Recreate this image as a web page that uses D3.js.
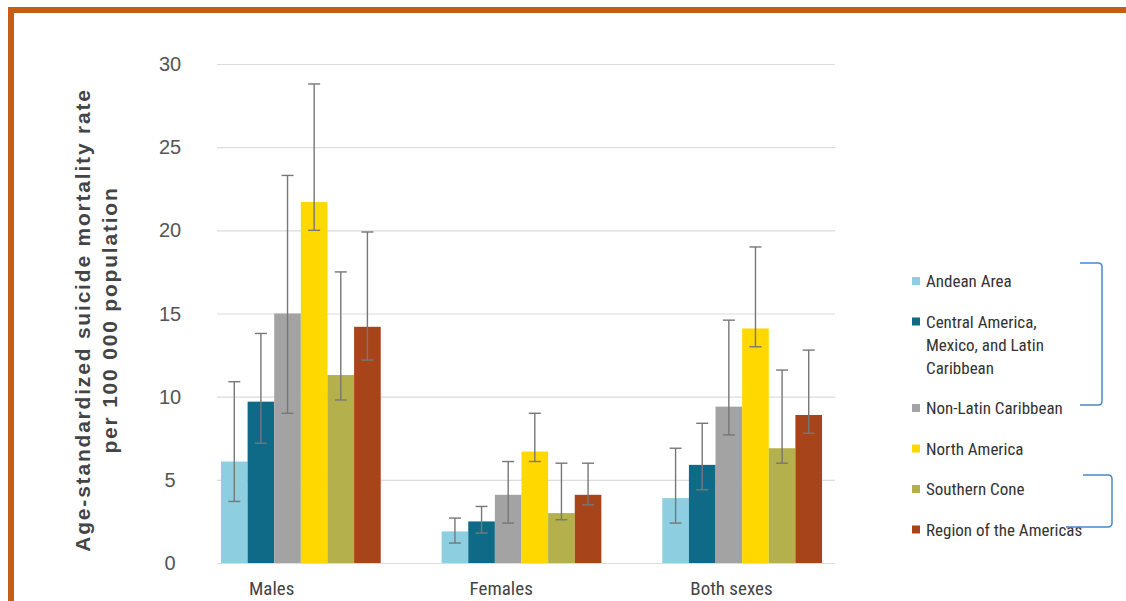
<!DOCTYPE html>
<html>
<head>
<meta charset="utf-8">
<script src="https://cdn.jsdelivr.net/npm/d3@7"></script>
<style>
  html, body { margin: 0; padding: 0; background: #fff; }
  svg { display: block; }
</style>
</head>
<body>
<svg id="chart" width="1126" height="601"></svg>
<script>
// ---------- data ----------
const groups = ["Males", "Females", "Both sexes"];
const seriesNames = ["Andean Area", "Central America, Mexico, and Latin Caribbean", "Non-Latin Caribbean", "North America", "Southern Cone", "Region of the Americas"];
const legendLines = [["Andean Area"], ["Central America,", "Mexico, and Latin", "Caribbean"], ["Non-Latin Caribbean"], ["North America"], ["Southern Cone"], ["Region of the Americas"]];
const seriesColors = ["#8dcfe0", "#0f6a87", "#a3a3a3", "#ffd800", "#b4b04c", "#a8441a"];

const andean   = [6.1, 1.9, 3.9];
const central  = [9.7, 2.5, 5.9];
const nonLatin = [15.0, 4.1, 9.4];
const northAm  = [21.7, 6.7, 14.1];
const southern = [11.3, 3.0, 6.9];
const region   = [14.2, 4.1, 8.9];

const andeanLo   = [3.7, 1.2, 2.4],  andeanHi   = [10.9, 2.7, 6.9];
const centralLo  = [7.2, 1.8, 4.4],  centralHi  = [13.8, 3.4, 8.4];
const nonLatinLo = [9.0, 2.4, 7.7],  nonLatinHi = [23.3, 6.1, 14.6];
const northAmLo  = [20.0, 6.1, 13.0], northAmHi = [28.8, 9.0, 19.0];
const southernLo = [9.8, 2.6, 6.0],  southernHi = [17.5, 6.0, 11.6];
const regionLo   = [12.2, 3.5, 7.8], regionHi   = [19.9, 6.0, 12.8];

const yTicks = [0, 5, 10, 15, 20, 25, 30];
const yTitle = ["Age-standardized suicide mortality rate", "per 100 000 population"];

const values = [andean, central, nonLatin, northAm, southern, region];
const lows   = [andeanLo, centralLo, nonLatinLo, northAmLo, southernLo, regionLo];
const highs  = [andeanHi, centralHi, nonLatinHi, northAmHi, southernHi, regionHi];

const rows = [];
groups.forEach((g, gi) => seriesNames.forEach((s, si) => rows.push({
  group: g, series: s, si, value: values[si][gi], lo: lows[si][gi], hi: highs[si][gi]
})));

// ---------- layout ----------
const svg = d3.select("#chart");
const narrow = "'Liberation Sans Narrow', 'Arial Narrow', 'Roboto Condensed', sans-serif";

// orange frame
svg.append("rect").attr("x", 8).attr("y", 7).attr("width", 1118).attr("height", 6).attr("fill", "#c65d14");
svg.append("rect").attr("x", 8).attr("y", 7).attr("width", 6).attr("height", 594).attr("fill", "#c65d14");

const y = d3.scaleLinear().domain([0, 30]).range([563, 64]);
const x0 = d3.scaleBand().domain(groups).range([217, 826]).paddingInner(0.276).paddingOuter(0.018);
const x1 = d3.scaleBand().domain(seriesNames).range([0, x0.bandwidth()]).padding(0);
const color = d3.scaleOrdinal().domain(seriesNames).range(seriesColors);

// gridlines
const yAxis = d3.axisLeft(y).tickValues(yTicks).tickSize(-(835 - 217)).tickFormat("");
const gGrid = svg.append("g").attr("transform", "translate(217,0)").call(yAxis);
gGrid.select(".domain").remove();
gGrid.selectAll(".tick line").attr("stroke", "#dcdcdc").attr("stroke-width", 1.2);

// y tick labels
svg.append("g").selectAll("text").data(yTicks).join("text")
  .attr("x", 170).attr("y", d => y(d))
  .attr("text-anchor", "middle").attr("dominant-baseline", "central")
  .attr("font-family", "'Liberation Sans', Arial, sans-serif").attr("font-size", 20)
  .attr("fill", "#555").text(d => d);

// y title
const yt = svg.append("text")
  .attr("transform", "translate(96,320) rotate(-90)")
  .attr("text-anchor", "middle")
  .attr("font-family", "'Liberation Sans', Arial, sans-serif").attr("font-weight", "bold")
  .attr("font-size", 21).attr("letter-spacing", 1.8).attr("fill", "#444");
yt.selectAll("tspan").data(yTitle).join("tspan")
  .attr("x", 0).attr("dy", (d, i) => i === 0 ? -6 : 27).text(d => d);

// bars
const bars = svg.append("g");
bars.selectAll("rect").data(rows).join("rect")
  .attr("x", d => x0(d.group) + x1(d.series))
  .attr("y", d => y(d.value))
  .attr("width", x1.bandwidth())
  .attr("height", d => y(0) - y(d.value))
  .attr("fill", d => color(d.series));

// error bars
const eb = svg.append("g").attr("stroke", "#777").attr("stroke-width", 1.4);
const cx = d => x0(d.group) + x1(d.series) + x1.bandwidth() / 2;
eb.selectAll("line.v").data(rows).join("line").attr("class", "v")
  .attr("x1", cx).attr("x2", cx).attr("y1", d => y(d.hi)).attr("y2", d => y(d.lo));
eb.selectAll("line.t").data(rows).join("line").attr("class", "t")
  .attr("x1", d => cx(d) - 6).attr("x2", d => cx(d) + 6).attr("y1", d => y(d.hi)).attr("y2", d => y(d.hi));
eb.selectAll("line.b").data(rows).join("line").attr("class", "b")
  .attr("x1", d => cx(d) - 6).attr("x2", d => cx(d) + 6).attr("y1", d => y(d.lo)).attr("y2", d => y(d.lo));

// group labels
svg.append("g").selectAll("text").data(groups).join("text")
  .attr("x", d => x0(d) + 28).attr("y", 595)
  .attr("font-family", narrow).attr("font-size", 19).attr("fill", "#444")
  .text(d => d);

// legend
let ly = 281;
const legend = svg.append("g");
legendLines.forEach((lines, i) => {
  legend.append("rect").attr("x", 912).attr("y", ly - 4).attr("width", 8).attr("height", 8)
    .attr("fill", seriesColors[i]);
  const t = legend.append("text").attr("font-family", narrow).attr("font-size", 17).attr("fill", "#333");
  lines.forEach((ln, k) => {
    t.append("tspan").attr("x", 926).attr("y", ly + k * 23).attr("dominant-baseline", "central").text(ln);
  });
  ly += 40.5 + (lines.length - 1) * 23;
});

// blue brackets
const br = svg.append("g").attr("fill", "none").attr("stroke", "#4a86c8").attr("stroke-width", 1.5);
br.append("path").attr("d", "M1080,263 L1098,263 Q1102,263 1102,267 L1102,401 Q1102,405 1098,405 L1080,405");
br.append("path").attr("d", "M1083,475 L1108,475 Q1112,475 1112,479 L1112,523 Q1112,527 1108,527 L1066,527");
</script>
</body>
</html>
